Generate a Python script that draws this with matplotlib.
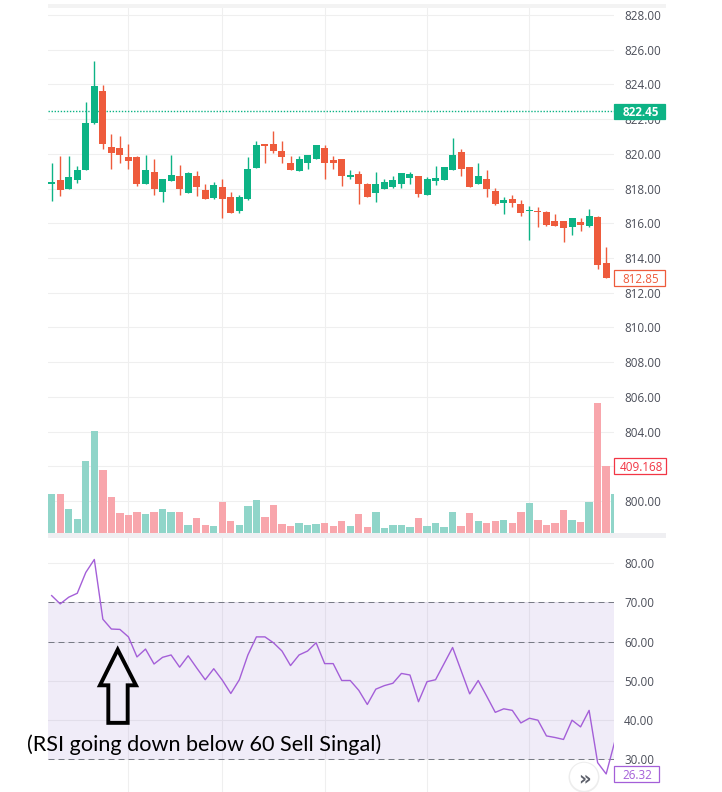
import numpy as np
import matplotlib.pyplot as plt
from matplotlib.patches import Rectangle, Polygon, Circle
from matplotlib.transforms import blended_transform_factory

W, H = 722, 792

# OHLC candles
open_ = [818.29, 818.48, 817.96, 818.48, 819.05, 821.79, 823.62, 820.42, 820.36, 819.79,
         819.79, 818.25, 818.93, 817.79, 818.42, 818.70, 817.73, 818.70, 817.90, 817.45,
         818.08, 817.50, 816.70, 817.39, 819.16, 820.59, 820.59, 820.19, 819.45, 818.99,
         819.45, 819.68, 820.36, 819.62, 819.68, 818.65, 818.82, 818.25, 817.73, 817.96,
         818.08, 818.25, 818.59, 818.70, 817.62, 818.42, 818.48, 819.05, 820.08, 819.22,
         818.25, 818.53, 817.85, 817.16, 817.39, 817.10, 816.70, 816.70, 816.65, 816.13,
         816.13, 815.79, 816.08, 815.85, 816.36, 813.73]
high = [819.45, 819.85, 819.90, 819.28, 822.99, 825.33, 823.96, 821.16, 821.05, 820.59,
        819.85, 819.96, 819.73, 818.53, 819.96, 819.33, 818.93, 818.99, 818.25, 818.36,
        818.53, 817.79, 817.62, 819.79, 820.76, 820.59, 821.33, 820.76, 819.85, 819.85,
        819.96, 820.53, 820.53, 819.85, 819.68, 819.05, 818.99, 818.30, 818.93, 818.53,
        818.70, 818.88, 818.93, 818.70, 818.65, 819.28, 819.22, 820.93, 820.25, 819.22,
        819.45, 819.05, 818.02, 817.50, 817.62, 817.33, 816.99, 816.93, 816.70, 816.53,
        816.13, 816.30, 816.30, 816.82, 816.42, 814.65]
low = [817.28, 817.58, 817.96, 818.30, 819.05, 821.70, 820.25, 819.10, 819.50, 819.10,
       818.13, 818.25, 817.62, 817.22, 818.42, 817.62, 817.73, 817.56, 817.39, 817.39,
       816.30, 816.59, 816.59, 817.33, 819.16, 819.50, 820.02, 819.45, 819.05, 818.99,
       819.10, 819.68, 818.53, 819.10, 818.15, 818.53, 817.10, 817.50, 817.22, 817.96,
       818.02, 818.02, 818.25, 817.50, 817.62, 818.19, 818.48, 819.05, 818.70, 818.08,
       818.25, 817.50, 817.05, 816.53, 816.93, 816.42, 815.05, 815.79, 815.85, 815.85,
       814.93, 815.33, 815.56, 815.79, 813.39, 812.85]
close = [818.32, 817.90, 818.65, 819.05, 821.79, 823.90, 820.59, 820.02, 819.96, 819.56,
         818.25, 819.05, 817.96, 818.53, 818.76, 817.96, 818.88, 818.08, 817.39, 818.19,
         817.39, 816.59, 817.50, 819.10, 820.53, 820.48, 820.19, 819.79, 819.05, 819.73,
         819.96, 820.53, 819.50, 819.50, 818.72, 818.76, 818.25, 817.50, 818.25, 818.36,
         818.48, 818.88, 818.82, 817.68, 818.53, 818.59, 819.22, 819.96, 819.10, 818.08,
         818.70, 817.96, 817.10, 817.33, 817.16, 816.59, 816.76, 816.65, 815.90, 815.85,
         815.73, 816.30, 815.90, 816.42, 813.62, 812.85]

# volume (K), last bar is only partly visible at the right edge
volume = [239, 239, 142, 81, 440, 622, 385, 221, 118, 105,
          124, 111, 124, 142, 124, 124, 45, 87, 45, 38,
          190, 69, 45, 160, 203, 93, 172, 51, 38, 57,
          45, 51, 57, 38, 69, 38, 111, 32, 124, 26,
          45, 45, 32, 87, 38, 57, 32, 124, 38, 118,
          69, 57, 69, 75, 57, 124, 184, 75, 45, 57,
          136, 75, 63, 190, 798, 409.168, 239]
last_bar_up = True

rsi = [71.7, 69.6, 71.3, 72.3, 77.6, 80.9, 65.7, 63.2, 63.1, 61.2,
       56.1, 58.1, 54.3, 56.0, 56.6, 53.5, 56.4, 53.3, 50.3, 53.1,
       50.2, 46.8, 50.3, 56.6, 61.2, 61.2, 59.7, 57.6, 53.9, 56.6,
       57.6, 59.7, 54.4, 54.4, 50.1, 50.1, 47.6, 44.0, 47.9, 48.8,
       49.4, 51.9, 51.5, 44.7, 49.8, 50.3, 54.4, 58.5, 52.6, 46.7,
       50.1, 46.1, 42.0, 42.9, 42.5, 39.3, 40.5, 40.0, 36.0, 35.6,
       35.1, 40.0, 38.3, 42.5, 29.2, 26.32, 34.5]

price_ticks = np.arange(800, 829, 2)
hidden_price_ticks = [802]  # sits under the volume tag
rsi_ticks = [30, 40, 50, 60, 70, 80]
rsi_dashed = [70, 60, 30]
session_starts = [9, 20, 32, 44, 56]
ref_price = 822.45
annotation = "(RSI going down below 60 Sell Singal)"

UP = '#0db385'
DOWN = '#ee5b3c'
VOL_UP = '#90d5c9'
VOL_DOWN = '#f8a6ac'
RSI_C = '#a45fd8'
GRID = '#efefef'
LABEL_C = '#4c4f5a'

plt.rcParams['font.family'] = ['Open Sans', 'DejaVu Sans']

fig = plt.figure(figsize=(W / 100, H / 100), dpi=100)
fig.patch.set_facecolor('white')

def px_axes(left, top, right, bottom):
    return fig.add_axes([left / W, 1 - bottom / H, (right - left) / W, (bottom - top) / H])

ax = px_axes(48, 8, 613.5, 532.5)
axv = px_axes(48, 8, 613.5, 532.5)
axr = px_axes(48, 537.5, 613.5, 792)

x = np.arange(len(open_))
xv = np.arange(len(volume))
xlim = (-0.43, 65.86)

for a in (ax, axv, axr):
    a.set_xlim(*xlim)
    for s in a.spines.values():
        s.set_visible(False)
    a.set_xticks([])

# price pane
ax.set_ylim(798.19, 828.40)
ax.yaxis.tick_right()
ax.set_yticks(price_ticks)
ax.set_yticklabels(['' if t in hidden_price_ticks else f'{t:.2f}' for t in price_ticks])
ax.tick_params(axis='y', length=0, pad=7.6, labelsize=8.4, labelcolor=LABEL_C)
for t in price_ticks:
    ax.axhline(t, color=GRID, lw=0.8, zorder=0)
for s in session_starts:
    ax.axvline(s, color=GRID, lw=0.8, zorder=0)
    axr.axvline(s, color=GRID, lw=0.8, zorder=0)

o = np.array(open_)
c = np.array(close)
up = c >= o
colors = np.where(up, UP, DOWN)
body_lo = np.minimum(o, c)
body_h = np.maximum(np.abs(c - o), 0.06)
ax.vlines(x, low, high, colors=colors, lw=1.0, zorder=2)
ax.bar(x, body_h, bottom=body_lo, width=0.82, color=colors, linewidth=0, zorder=3)
ax.axhline(ref_price, color=UP, lw=1.0, ls=(0, (1, 1.2)), zorder=1)

# volume overlay
axv.patch.set_visible(False)
axv.set_yticks([])
axv.set_ylim(0, 3227)
vcols = [VOL_UP if u else VOL_DOWN for u in up] + [VOL_UP if last_bar_up else VOL_DOWN]
axv.bar(xv, volume, width=0.86, color=vcols, linewidth=0)

# RSI pane
axr.set_ylim(21.73, 86.49)
axr.yaxis.tick_right()
axr.set_yticks(rsi_ticks)
axr.set_yticklabels([f'{t:.2f}' for t in rsi_ticks])
axr.tick_params(axis='y', length=0, pad=7.6, labelsize=8.4, labelcolor=LABEL_C)
for t in rsi_ticks:
    axr.axhline(t, color=GRID, lw=0.8, zorder=0)
axr.axhspan(30, 70, color=(126 / 255, 87 / 255, 194 / 255, 0.11), lw=0, zorder=1)
for t in rsi_dashed:
    axr.axhline(t, color='#787b86', lw=0.72, ls=(0, (6, 4)), zorder=2)
axr.plot(xv, rsi, color=RSI_C, lw=1.0, zorder=3)

# hollow arrow pointing at the 60 cross
arrow = Polygon([(7.74, 57.95), (9.88, 48.88), (8.91, 48.88), (8.91, 39.32),
                 (6.64, 39.32), (6.64, 48.88), (5.66, 48.88)],
                closed=True, fill=False, ec='black', lw=2.8, joinstyle='miter', zorder=5)
axr.add_patch(arrow)

fig.text(26.5 / W, 1 - 744.5 / H, annotation, fontsize=15.6, family=['Lato', 'DejaVu Sans'],
         color='black', ha='left', va='center')

# price scale tags
def tag(a, value, text, fc, ec, tc, right_px, bold=False):
    y0, y1 = a.get_ylim()
    pos = a.get_position()
    per_px = (y1 - y0) / (pos.height * H)
    wpx = pos.width * W
    trans = blended_transform_factory(a.transAxes, a.transData)
    xl = 1 + 0.8 / wpx
    xr = 1 + (right_px - 613.5) / wpx
    a.add_patch(Rectangle((xl, value - 7.7 * per_px), xr - xl, 15.4 * per_px, transform=trans,
                          fc=fc, ec=ec, lw=0.9, clip_on=False, zorder=10))
    a.text((xl + xr) / 2 + 1 / wpx, value, text, transform=trans, ha='center', va='center_baseline',
           color=tc, fontsize=8.4, fontweight='bold' if bold else 'normal', zorder=11, clip_on=False)

tag(ax, ref_price, f'{ref_price:.2f}', UP, UP, 'white', 665, bold=True)
tag(ax, close[-1], f'{close[-1]:.2f}', 'white', DOWN, DOWN, 665)
tag(axv, volume[-2], f'{volume[-2]:.3f}', 'white', '#f23645', '#f23645', 666)
tag(axr, rsi[-2], f'{rsi[-2]:.2f}', 'white', RSI_C, RSI_C, 659)

# pane chrome
fig.add_artist(Rectangle((48 / W, 1 - 8 / H), (666 - 48) / W, 4 / H, transform=fig.transFigure,
                         fc='#f3f3f3', ec='none'))
fig.add_artist(Rectangle((48 / W, 1 - 537.5 / H), (666 - 48) / W, 5 / H, transform=fig.transFigure,
                         fc='#efeff2', ec='none'))

# scroll button
fig.add_artist(Circle((5.84, 0.148), 0.155, transform=fig.dpi_scale_trans, fc=(0, 0, 0, 0.07), ec='none'))
fig.add_artist(Circle((5.84, 0.152), 0.14, transform=fig.dpi_scale_trans, fc='white', ec='none'))
fig.text(5.84, 0.152, '»', transform=fig.dpi_scale_trans, ha='center', va='center_baseline',
         fontsize=14, fontweight='bold', color='#5d606b', family='DejaVu Sans')

fig.savefig('out.png', dpi=100, facecolor='white')
